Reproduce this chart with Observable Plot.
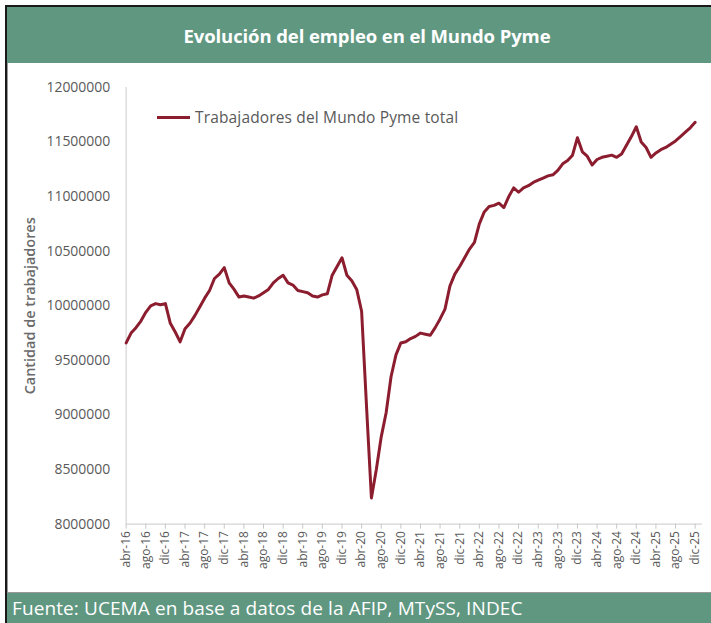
<!DOCTYPE html>
<html>
<head>
<meta charset="utf-8">
<script src="https://cdn.jsdelivr.net/npm/d3@7"></script>
<script src="https://cdn.jsdelivr.net/npm/@observablehq/plot@0.6"></script>
<style>
  html, body { margin: 0; padding: 0; background: #fff; }
  #page { position: relative; width: 711px; height: 623px; overflow: hidden; background: #fff; font-family: "Open Sans", sans-serif; }
  #frame { position: absolute; left: 5px; top: 5px; width: 706px; height: 618px; border-left: 2px solid #1a1a1a; border-top: 2px solid #1a1a1a; box-sizing: border-box; }
  #title { position: absolute; left: 7px; top: 7px; width: 704px; height: 56px; background: #5f9781; color: #fff; font-weight: 700; font-size: 18.5px; line-height: 57px; text-align: center; padding-left: 16px; box-sizing: border-box; letter-spacing: -0.1px; }
  #chart { position: absolute; left: 7px; top: 63px; width: 704px; height: 530px; border-left: 1px solid #9a9a9a; border-bottom: 1px solid #9a9a9a; box-sizing: border-box; }
  #chart svg { position: absolute; left: -1px; top: 0; }
  #legend { position: absolute; left: 157px; top: 107px; height: 20px; display: flex; align-items: center; color: #595959; font-size: 15.5px; letter-spacing: 0.15px; }
  #legend .sw { width: 33px; height: 3px; background: #8b1d2f; margin-right: 5px; }
  #footer { position: absolute; left: 7px; top: 593px; width: 704px; height: 30px; background: #5f9781; color: #fff; font-size: 19px; line-height: 31px; padding-left: 5px; box-sizing: border-box; letter-spacing: 0.1px; white-space: nowrap; }
</style>
</head>
<body>
<div id="page">
  <div id="frame"></div>
  <div id="title">Evolución del empleo en el Mundo Pyme</div>
  <div id="chart"></div>
  <div id="legend"><span class="sw"></span><span>Trabajadores del Mundo Pyme total</span></div>
  <div id="footer">Fuente: UCEMA en base a datos de la AFIP, MTySS, INDEC</div>
</div>
<script>
// ---- Data ----
const meses = ["ene","feb","mar","abr","may","jun","jul","ago","sep","oct","nov","dic"];
const anioInicio = 2016, mesInicio = 3; // abr-16
const serieNombre = "Trabajadores del Mundo Pyme total";
// Trabajadores del Mundo Pyme total, abr-16 .. dic-25 (millones)
const trabajadores = [
  9.66, 9.75, 9.80, 9.86, 9.94, 10.00, 10.02, 10.01, 10.02,              // 2016 abr-dic
  9.84, 9.76, 9.67, 9.79, 9.84, 9.91, 9.99, 10.07, 10.14, 10.25, 10.29, 10.35, // 2017
  10.21, 10.15, 10.08, 10.09, 10.08, 10.07, 10.09, 10.12, 10.15, 10.21, 10.25, 10.28, // 2018
  10.21, 10.19, 10.14, 10.13, 10.12, 10.09, 10.08, 10.10, 10.11, 10.28, 10.36, 10.44, // 2019
  10.28, 10.23, 10.15, 9.95, 9.08, 8.24, 8.50, 8.80, 9.02, 9.35, 9.55, 9.66,  // 2020
  9.67, 9.70, 9.72, 9.75, 9.74, 9.73, 9.80, 9.88, 9.97, 10.18, 10.29, 10.36,  // 2021
  10.44, 10.52, 10.58, 10.75, 10.86, 10.91, 10.92, 10.94, 10.90, 11.00, 11.08, 11.04, // 2022
  11.08, 11.10, 11.13, 11.15, 11.17, 11.19, 11.20, 11.24, 11.30, 11.33, 11.38, 11.54, // 2023
  11.41, 11.37, 11.29, 11.34, 11.36, 11.37, 11.38, 11.36, 11.39, 11.47, 11.55, 11.64, // 2024
  11.50, 11.45, 11.36, 11.40, 11.43, 11.45, 11.48, 11.51, 11.55, 11.59, 11.63, 11.68  // 2025
];
const yTicks = [8000000, 8500000, 9000000, 9500000, 10000000, 10500000, 11000000, 11500000, 12000000];
const yTitulo = "Cantidad de trabajadores";

// ---- Derived table ----
const periodos = trabajadores.map((_, i) => {
  const m = mesInicio + i;
  const y = anioInicio + Math.floor(m / 12);
  return meses[m % 12] + "-" + String(y).slice(2);
});
const data = trabajadores.map((v, i) => ({i, periodo: periodos[i], valor: v * 1e6}));
const xTicks = d3.range(0, periodos.length, 4);

const chart = Plot.plot({
  width: 705,
  height: 529,
  marginLeft: 119,
  marginRight: 8,
  marginTop: 24,
  marginBottom: 67,
  style: {fontFamily: "Open Sans, sans-serif", fontSize: "14px", color: "#595959", background: "transparent"},
  x: {domain: [0, 117.5]},
  y: {domain: [8000000, 12000000]},
  marks: [
    Plot.ruleX([0], {stroke: "#d4d4d4", strokeWidth: 1.2}),
    Plot.ruleY([8000000], {stroke: "#d4d4d4", strokeWidth: 1.2}),
    Plot.axisY({ticks: yTicks, tickFormat: d => String(d), tickSize: 0, tickPadding: 16, label: null, fontSize: 14, fill: "#595959"}),
    Plot.axisX({ticks: xTicks, tickFormat: i => periodos[i], tickRotate: -90, tickSize: 5, tickPadding: 2, label: null, fontSize: 12, stroke: "#c8c8c8", fill: "#595959"}),
    Plot.text([yTitulo], {frameAnchor: "left", textAnchor: "middle", dx: -96, rotate: -90, fontSize: 14.5, fontWeight: 600, fill: "#6b6b6b"}),
    Plot.line(data, {x: "i", y: "valor", stroke: "#8b1d2f", strokeWidth: 3, strokeLinejoin: "round", curve: "linear"})
  ]
});
document.getElementById("chart").appendChild(chart);
</script>
</body>
</html>
